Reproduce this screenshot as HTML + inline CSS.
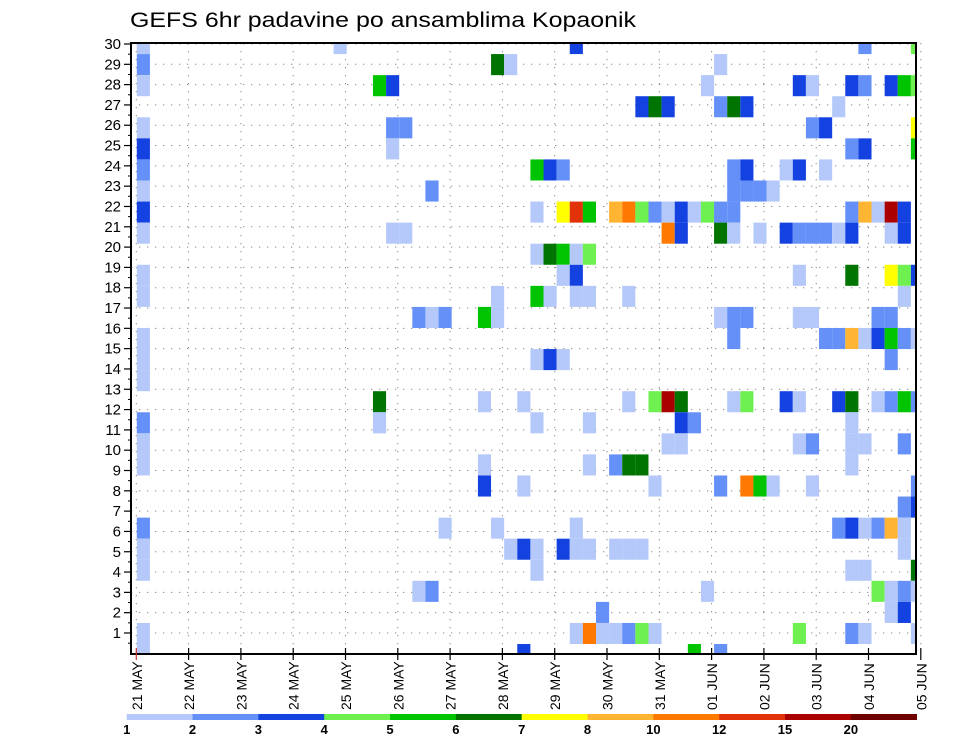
<!DOCTYPE html>
<html><head><meta charset="utf-8"><title>GEFS 6hr padavine</title>
<style>html,body{margin:0;padding:0;background:#fff;}svg{display:block;font-family:"Liberation Sans",sans-serif;}</style>
</head><body>
<svg id="chart" width="960" height="742" viewBox="0 0 960 742" xmlns="http://www.w3.org/2000/svg">
<defs><clipPath id="plotclip"><rect x="131" y="43" width="785" height="611"/></clipPath></defs>
<rect x="0" y="0" width="960" height="742" fill="#fff"/>
<text x="130" y="27" font-size="21" textLength="506" lengthAdjust="spacingAndGlyphs" fill="#000">GEFS 6hr padavine po ansamblima Kopaonik</text>
<g id="grid"></g>
<g id="cells" clip-path="url(#plotclip)"></g>
<g id="axes"></g>
<g id="colorbar"></g>
</svg>
<script>
// ---- data ----
const dateLabels = ["21 MAY","22 MAY","23 MAY","24 MAY","25 MAY","26 MAY","27 MAY","28 MAY","29 MAY","30 MAY","31 MAY","01 JUN","02 JUN","03 JUN","04 JUN","05 JUN"];
const memberTicks = [1,2,3,4,5,6,7,8,9,10,11,12,13,14,15,16,17,18,19,20,21,22,23,24,25,26,27,28,29,30];
const levelLabels = ["1","2","3","4","5","6","7","8","10","12","15","20"];
const levelBounds = [1,2,3,4,5,6,7,8,10,12,15,20];
const levelColors = ["#b4c8fa","#6490f8","#1442e0","#6ef050","#00c400","#007400","#ffff00","#ffb432","#ff7800","#e2320a","#aa0000","#6e0000"];
// cells: [6h step index from 21 May 00z, member row from top, precipitation mm]
const cells = [
[0,0,1.5],[15,0,1.5],[33,0,3.5],[55,0,2.5],[59,0,4.5],
[0,1,2.5],[27,1,6.5],[28,1,1.5],[44,1,1.5],
[0,2,1.5],[18,2,5.5],[19,2,3.5],[43,2,1.5],[50,2,3.5],[51,2,1.5],[54,2,3.5],[55,2,2.5],[57,2,3.5],[58,2,5.5],[59,2,4.5],
[38,3,3.5],[39,3,6.5],[40,3,3.5],[44,3,2.5],[45,3,6.5],[46,3,3.5],[53,3,1.5],
[0,4,1.5],[19,4,2.5],[20,4,2.5],[51,4,2.5],[52,4,3.5],[59,4,7.5],
[0,5,3.5],[19,5,1.5],[54,5,2.5],[55,5,3.5],[59,5,5.5],
[0,6,2.5],[30,6,5.5],[31,6,3.5],[32,6,2.5],[45,6,2.5],[46,6,3.5],[49,6,1.5],[50,6,3.5],[52,6,1.5],
[0,7,1.5],[22,7,2.5],[45,7,2.5],[46,7,2.5],[47,7,2.5],[48,7,1.5],
[0,8,3.5],[30,8,1.5],[32,8,7.5],[33,8,13.5],[34,8,5.5],[36,8,9],[37,8,11],[38,8,4.5],[39,8,2.5],[40,8,1.5],[41,8,3.5],[42,8,1.5],[43,8,4.5],[44,8,2.5],[45,8,2.5],[54,8,2.5],[55,8,9],[56,8,1.5],[57,8,17.5],[58,8,3.5],
[0,9,1.5],[19,9,1.5],[20,9,1.5],[40,9,11],[41,9,3.5],[44,9,6.5],[45,9,1.5],[47,9,1.5],[49,9,3.5],[50,9,2.5],[51,9,2.5],[52,9,2.5],[53,9,1.5],[54,9,3.5],[57,9,1.5],[58,9,3.5],
[30,10,1.5],[31,10,6.5],[32,10,5.5],[33,10,1.5],[34,10,4.5],
[0,11,1.5],[32,11,1.5],[33,11,3.5],[50,11,1.5],[54,11,6.5],[57,11,7.5],[58,11,4.5],[59,11,3.5],
[0,12,1.5],[27,12,1.5],[30,12,5.5],[31,12,1.5],[33,12,1.5],[34,12,1.5],[37,12,1.5],[58,12,1.5],
[21,13,2.5],[22,13,1.5],[23,13,2.5],[26,13,5.5],[27,13,1.5],[44,13,1.5],[45,13,2.5],[46,13,2.5],[50,13,1.5],[51,13,1.5],[56,13,2.5],[57,13,2.5],
[0,14,1.5],[45,14,2.5],[52,14,2.5],[53,14,2.5],[54,14,9],[55,14,1.5],[56,14,3.5],[57,14,5.5],[58,14,2.5],[59,14,1.5],
[0,15,1.5],[30,15,1.5],[31,15,3.5],[32,15,1.5],[57,15,2.5],
[0,16,1.5],
[18,17,6.5],[26,17,1.5],[29,17,1.5],[37,17,1.5],[39,17,4.5],[40,17,17.5],[41,17,6.5],[45,17,1.5],[46,17,4.5],[49,17,3.5],[50,17,1.5],[53,17,3.5],[54,17,6.5],[56,17,1.5],[57,17,2.5],[58,17,5.5],[59,17,2.5],
[0,18,2.5],[18,18,1.5],[30,18,1.5],[34,18,1.5],[41,18,3.5],[42,18,2.5],[54,18,1.5],
[0,19,1.5],[40,19,1.5],[41,19,1.5],[50,19,1.5],[51,19,2.5],[54,19,1.5],[55,19,1.5],[58,19,2.5],
[0,20,1.5],[26,20,1.5],[34,20,1.5],[36,20,2.5],[37,20,6.5],[38,20,6.5],[54,20,1.5],
[26,21,3.5],[29,21,1.5],[39,21,1.5],[44,21,2.5],[46,21,11],[47,21,5.5],[48,21,1.5],[51,21,1.5],[59,21,2.5],
[58,22,2.5],[59,22,3.5],
[0,23,2.5],[23,23,1.5],[27,23,1.5],[33,23,1.5],[53,23,2.5],[54,23,3.5],[55,23,1.5],[56,23,2.5],[57,23,9],[58,23,1.5],
[0,24,1.5],[28,24,1.5],[29,24,3.5],[30,24,1.5],[32,24,3.5],[33,24,1.5],[34,24,1.5],[36,24,1.5],[37,24,1.5],[38,24,1.5],[58,24,1.5],
[0,25,1.5],[30,25,1.5],[54,25,1.5],[55,25,1.5],[59,25,6.5],
[21,26,1.5],[22,26,2.5],[43,26,1.5],[56,26,4.5],[57,26,1.5],[58,26,2.5],[59,26,1.5],
[35,27,2.5],[57,27,1.5],[58,27,3.5],
[0,28,1.5],[33,28,1.5],[34,28,11],[35,28,1.5],[36,28,1.5],[37,28,2.5],[38,28,4.5],[39,28,1.5],[50,28,4.5],[54,28,2.5],[55,28,1.5],[59,28,1.5],
[0,29,1.5],[29,29,3.5],[42,29,5.5],[44,29,2.5]
];

// ---- scales ----
const NS = "http://www.w3.org/2000/svg";
function xStep(i){ return 136.8 + 13.12 * i; }
function xDate(d){ return 136.3 + 52.3 * d; }
function yRow(j){ return 33 + 21.07 * j; }
function yTick(v){ return 653.3 - 20.31 * v; }
function colorFor(v){ let c = 0; for (let k = 0; k < levelBounds.length; k++) { if (v >= levelBounds[k]) c = k; } return levelColors[c]; }
function mk(tag, attrs, parent){ const e = document.createElementNS(NS, tag); for (const k in attrs) e.setAttribute(k, attrs[k]); parent.appendChild(e); return e; }

const grid = document.getElementById('grid');
const cellG = document.getElementById('cells');
const axes = document.getElementById('axes');
const cb = document.getElementById('colorbar');

// gridlines
memberTicks.forEach(v => {
  const l = mk('line', {x1:131, x2:916, y1:yTick(v), y2:yTick(v), stroke:'#888', 'stroke-width':1, 'stroke-dasharray':'1.3 6.7'}, grid);
  
  
});
dateLabels.forEach((d, i) => {
  const l = mk('line', {x1:xDate(i), x2:xDate(i), y1:43, y2:654, stroke:'#888', 'stroke-width':1, 'stroke-dasharray':'1.3 6.7'}, grid);
  
  
});

// cells
cells.forEach(c => {
  const r = mk('rect', {x:xStep(c[0]), y:yRow(c[1]), width:13.12, height:21.07, fill:colorFor(c[2])}, cellG);
  
  
});

// frame
const frame = mk('rect', {x:131, y:43, width:785, height:611, fill:'none', stroke:'#000', 'stroke-width':2}, axes);



// y ticks + labels
memberTicks.forEach(v => {
  const y = yTick(v);
  const t = mk('line', {x1:124, x2:131, y1:y, y2:y, stroke:'#000', 'stroke-width':1.2}, axes);
  
  
  const m = mk('line', {x1:128, x2:131, y1:y+10.15, y2:y+10.15, stroke:'#000', 'stroke-width':1}, axes);
  
  
  const tx = mk('text', {x:121, y:y+5, 'font-size':15, 'text-anchor':'end', fill:'#000'}, axes);
  tx.textContent = String(v);
  
  
});

// x ticks + labels
dateLabels.forEach((d, i) => {
  const x = xDate(i);
  const t = mk('line', {x1:x, x2:x, y1:648, y2:660, stroke: i === 0 ? '#c33' : '#000', 'stroke-width':1.2}, axes);
  
  
  const tx = mk('text', {transform:'translate(' + (x + 5.5) + ',710) rotate(-90)', 'font-size':14, fill:'#000'}, axes);
  tx.textContent = d;
  
  
});

// colorbar
const cbX0 = 126.7, cbW = (916.7 - 126.7) / levelColors.length;
levelColors.forEach((col, k) => {
  const r = mk('rect', {x:cbX0 + k * cbW, y:714, width:cbW + 0.3, height:6, fill:col}, cb);
  
  
});
levelLabels.forEach((lab, k) => {
  const tx = mk('text', {x:cbX0 + k * cbW, y:734, 'font-size':13, 'font-weight':'bold', 'text-anchor':'middle', fill:'#000'}, cb);
  tx.textContent = lab;
  
  
});
</script>
</body></html>
